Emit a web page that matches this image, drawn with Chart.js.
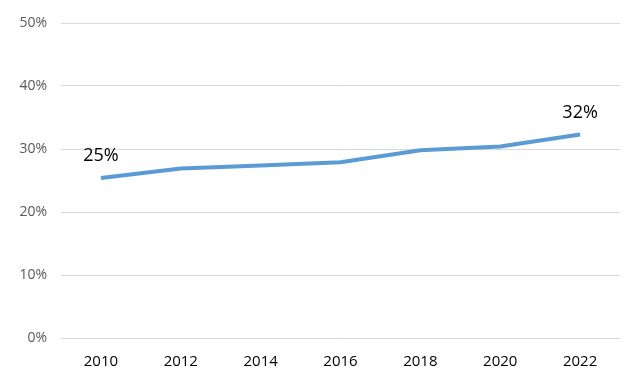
<!DOCTYPE html>
<html>
<head>
<meta charset="utf-8">
<script src="https://cdn.jsdelivr.net/npm/chart.js@4/dist/chart.umd.min.js"></script>
<style>
html,body{margin:0;padding:0;background:#fff;}
#wrap{width:627px;height:387px;}
</style>
</head>
<body>
<div id="wrap"><canvas id="c" width="627" height="387"></canvas></div>
<script>
const years = ['2010','2012','2014','2016','2018','2020','2022'];
const shares = [25.4, 26.9, 27.4, 27.9, 29.8, 30.4, 32.3];
const labelledPoints = [0, 6];
const yTicks = [0, 10, 20, 30, 40, 50];

const endLabels = {
  id: 'endLabels',
  afterDatasetsDraw(chart) {
    const ctx = chart.ctx;
    const meta = chart.getDatasetMeta(0);
    ctx.save();
    ctx.font = '18px "Open Sans", sans-serif';
    ctx.fillStyle = '#000';
    ctx.textAlign = 'center';
    ctx.textBaseline = 'middle';
    labelledPoints.forEach(i => {
      const p = meta.data[i];
      ctx.fillText(Math.round(shares[i]) + '%', p.x, p.y - 22);
    });
    ctx.restore();
  }
};

new Chart(document.getElementById('c'), {
  type: 'line',
  data: {
    labels: years,
    datasets: [{
      data: shares,
      borderColor: '#5B9BD5',
      borderWidth: 4,
      pointRadius: 0,
      tension: 0,
      fill: false
    }]
  },
  options: {
    responsive: false,
    animation: false,
    layout: { padding: { top: 23, right: 7, left: 0, bottom: 0 } },
    plugins: { legend: { display: false }, tooltip: { enabled: false } },
    scales: {
      x: {
        offset: true,
        grid: { display: false, drawTicks: false },
        border: { display: false },
        ticks: { color: '#000', font: { family: '"Open Sans", sans-serif', size: 15 }, padding: 15, maxRotation: 0 },
        afterFit: s => { s.height = 49; }
      },
      y: {
        min: 0, max: 50,
        afterBuildTicks: s => { s.ticks = yTicks.map(v => ({ value: v })); },
        grid: { color: '#d9d9d9', lineWidth: 1, drawTicks: false },
        border: { display: false },
        ticks: { color: '#595959', font: { family: '"Open Sans", sans-serif', size: 14 }, padding: 14,
          callback: v => v + '%' },
        afterFit: s => { s.width = 61; }
      }
    }
  },
  plugins: [endLabels]
});
</script>
</body>
</html>
